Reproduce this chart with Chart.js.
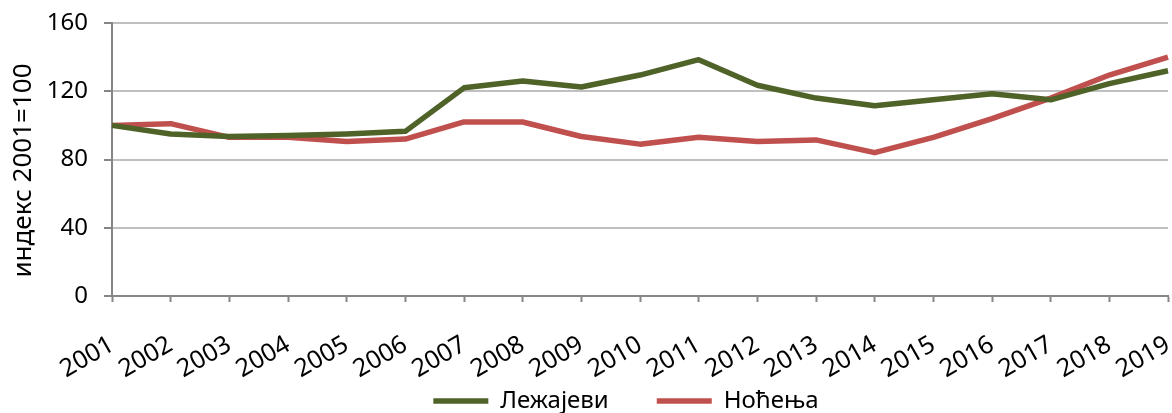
<!DOCTYPE html>
<html>
<head>
<meta charset="utf-8">
<script src="https://cdn.jsdelivr.net/npm/chart.js@4/dist/chart.umd.min.js"></script>
<style>
    html, body { margin: 0; padding: 0; background: #fff; }
    #wrap { width: 1172px; height: 413px; }
</style>
</head>
<body>
<div id="wrap"><canvas id="indexChart"></canvas></div>
<script>
// Индекс ноћења и лежајева, 2001=100
const years = ['2001', '2002', '2003', '2004', '2005', '2006', '2007', '2008', '2009', '2010',
    '2011', '2012', '2013', '2014', '2015', '2016', '2017', '2018', '2019'];
const lezajevi = [100, 95, 93.5, 94, 95, 96.5, 122, 126, 122.5, 129.5,
    138.5, 123.5, 116, 111.5, 115, 118.5, 115, 124.5, 132];
const nocenja = [100, 101, 93, 93, 90.5, 92, 102, 102, 93.5, 89,
    93, 90.5, 91.5, 84, 93, 104, 116, 129.5, 140];
const yTicks = [0, 40, 80, 120, 160];

const fontFamily = '"Noto Sans", sans-serif';

let indexChart;

// легенда заузима мало места у распореду, а црта се ниже и мало удесно;
// наслов y осе спуштен мало испод средине
const legendPlacement = {
    id: 'legendPlacement',
    beforeInit(chart) {
        const legend = chart.legend;
        const fit = legend.fit;
        legend.fit = function () {
            fit.call(this);
            this.height = 16;
        };
    },
    afterLayout(chart) {
        chart.legend.top = 341;
        chart.legend.left += 84;
    },
    afterUpdate(chart) {
        const yScale = chart.scales.y;
        if (yScale._titleShifted) return;
        const drawTitle = yScale.drawTitle;
        yScale.drawTitle = function () {
            const c = this.ctx;
            c.save();
            c.translate(0, 11);
            drawTitle.call(this);
            c.restore();
        };
        yScale._titleShifted = true;
    }
};

window.onload = function () {
    const ctx = document.getElementById('indexChart').getContext('2d');

    indexChart = new Chart(ctx, {
        type: 'line',
        data: {
            labels: years,
            datasets: [
                {
                    label: 'Лежајеви',
                    data: lezajevi,
                    borderColor: '#4F6228',
                    backgroundColor: '#4F6228',
                    borderWidth: 5.5,
                    pointRadius: 0,
                    tension: 0,
                    borderJoinStyle: 'round'
                },
                {
                    label: 'Ноћења',
                    data: nocenja,
                    borderColor: '#C0504D',
                    backgroundColor: '#C0504D',
                    borderWidth: 5.5,
                    pointRadius: 0,
                    tension: 0,
                    borderJoinStyle: 'round'
                }
            ]
        },
        plugins: [legendPlacement],
        options: {
            responsive: true,
            maintainAspectRatio: false,
            animation: false,
            layout: { padding: { top: 23, right: 4, left: 0, bottom: 0 } },
            plugins: {
                tooltip: { enabled: false },
                legend: {
                    position: 'bottom',
                    labels: {
                        usePointStyle: true,
                        pointStyle: 'line',
                        pointStyleWidth: 55,
                        boxWidth: 55,
                        boxHeight: 5,
                        padding: 48,
                        color: '#000',
                        font: { family: fontFamily, size: 24 }
                    }
                }
            },
            scales: {
                x: {
                    offset: false,
                    grid: {
                        drawOnChartArea: false,
                        drawTicks: true,
                        tickLength: 6,
                        tickColor: '#868686',
                        tickWidth: 2
                    },
                    border: { color: '#868686', width: 2 },
                    ticks: {
                        autoSkip: false,
                        minRotation: 30,
                        maxRotation: 30,
                        padding: 28,
                        color: '#000',
                        font: { family: fontFamily, size: 25 }
                    },
                    afterFit: function (scale) {
                        scale.height = 101;
                        scale.paddingLeft = 0;
                        scale.paddingRight = 0;
                    }
                },
                y: {
                    min: 0,
                    max: 160,
                    afterBuildTicks: function (scale) {
                        scale.ticks = yTicks.map(v => ({ value: v }));
                    },
                    grid: {
                        color: '#C0C0C0',
                        lineWidth: 2,
                        tickLength: 8,
                        tickColor: '#868686',
                        tickWidth: 2
                    },
                    border: { color: '#868686', width: 2 },
                    ticks: {
                        padding: 16,
                        color: '#000',
                        font: { family: fontFamily, size: 24 }
                    },
                    title: {
                        display: true,
                        text: 'индекс 2001=100',
                        color: '#000',
                        padding: { top: 8, bottom: 0 },
                        font: { family: fontFamily, size: 26 }
                    },
                    afterFit: function (scale) {
                        scale.width = 112;
                        scale.paddingTop = 0;
                        scale.paddingBottom = 0;
                    }
                }
            }
        }
    });
};
</script>
</body>
</html>
